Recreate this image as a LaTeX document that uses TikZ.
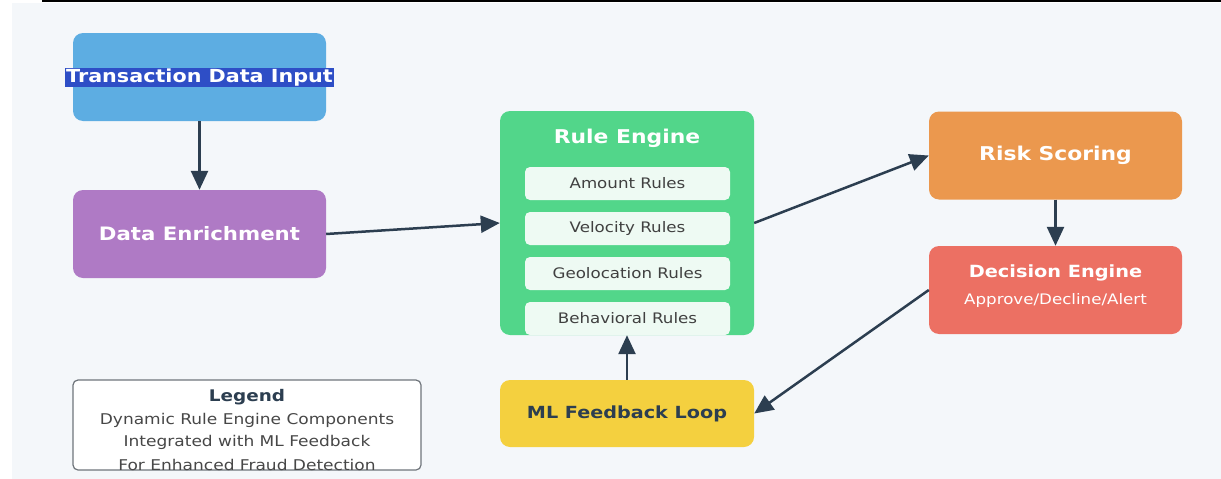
\documentclass[tikz,border=0pt]{standalone}
\usepackage{fontspec}
\setmainfont{DejaVu Sans}
\newfontfamily\boxfont[FakeStretch=1.15]{DejaVu Sans}
\usetikzlibrary{arrows.meta}
\definecolor{pagebg}{HTML}{F4F7FA}
\definecolor{inkdark}{HTML}{2C3E50}
\definecolor{cblue}{HTML}{5DADE2}
\definecolor{cpurple}{HTML}{AF7AC5}
\definecolor{cgreen}{HTML}{52D68A}
\definecolor{corange}{HTML}{EB984E}
\definecolor{cred}{HTML}{EC7063}
\definecolor{cyellow}{HTML}{F4D03F}
\definecolor{subfill}{HTML}{EEFAF3}
\definecolor{selblue}{HTML}{2E4EC6}
\definecolor{legendgray}{HTML}{6F757B}
\newcommand\fsz[1]{\fontsize{#1}{#1}\selectfont}
\tikzset{
  stage/.style={rounded corners=10pt, minimum width=253pt, minimum height=88pt,
    inner sep=0pt, text=white, font=\boxfont\bfseries\fsz{18}, align=center},
  rulebox/.style={rounded corners=5pt, fill=subfill, minimum width=205pt, minimum height=33pt,
    inner sep=0pt, text=black!75, font=\boxfont\fsz{14.5}},
  flow/.style={draw=inkdark, line width=2.5pt, -{Triangle[length=19pt,width=17pt]}},
  legendtext/.style={text=black!72, font=\boxfont\fsz{14.8}}
}
\begin{document}
\begin{tikzpicture}[x=1pt,y=-1pt]
  % canvas
  \useasboundingbox (0,0) rectangle (1221,479);
  \fill[white] (0,0) rectangle (1221,479);
  \fill[pagebg] (12,3) rectangle (1221,479);
  \fill[black] (42,0) rectangle (1221,2);

  % input and enrichment
  \node[stage, fill=cblue] (input) at (199.5,77) {};
  \node[fill=selblue, text=white, inner sep=1pt, font=\boxfont\bfseries\fsz{18}]
    (inputlabel) at (199.5,77.5) {Transaction Data Input};
  \node[stage, fill=cpurple, font=\boxfont\bfseries\fsz{18.5}] (enrich) at (199.5,234) {Data Enrichment};

  % rule engine with its rule sets
  \node[stage, fill=cgreen, minimum width=254pt, minimum height=224pt] (engine) at (627,223) {};
  \node[text=white, font=\boxfont\bfseries\fsz{19}] (enginetitle) at (627,138) {Rule Engine};
  \node[rulebox] (amount) at (627.5,183.5) {Amount Rules};
  \node[rulebox] (velocity) at (627.5,228.5) {Velocity Rules};
  \node[rulebox] (geo) at (627.5,273.5) {Geolocation Rules};
  \node[rulebox] (behav) at (627.5,318.5) {Behavioral Rules};

  % scoring and decision
  \node[stage, fill=corange, font=\boxfont\bfseries\fsz{19}] (risk) at (1055.5,155.5) {Risk Scoring};
  \node[stage, fill=cred] (decision) at (1055.5,290) {};
  \node[text=white, font=\boxfont\bfseries\fsz{16.8}] (dectitle) at (1055.5,273) {Decision Engine};
  \node[text=white, font=\boxfont\fsz{14.5}] (decsub) at (1055.5,300) {Approve/Decline/Alert};

  % feedback loop
  \node[stage, fill=cyellow, minimum width=254pt, minimum height=67pt, text=inkdark,
    font=\boxfont\bfseries\fsz{16.7}] (ml) at (627,413.5) {ML Feedback Loop};

  % legend
  \node[draw=legendgray, line width=1.2pt, fill=white, rounded corners=5pt, minimum width=348pt, minimum height=90pt] (legend) at (247,425) {};
  \node[text=inkdark, font=\boxfont\bfseries\fsz{16}] (legendtitle) at (247,397) {Legend};
  \node[legendtext] (leg1) at (247,420) {Dynamic Rule Engine Components};
  \node[legendtext] (leg2) at (247,442) {Integrated with ML Feedback};
  \node[legendtext] (leg3) at (247,465) {For Enhanced Fraud Detection};

  % connectors
  \draw[flow] (input.south) -- (enrich.north);
  \draw[flow] (enrich.east) -- (engine.west);
  \draw[flow] (engine.east) -- (risk.west);
  \draw[flow] (risk.south) -- (decision.north);
  \draw[flow] (decision.west) -- (ml.east);
  \draw[flow] (ml.north) -- (engine.south);
\end{tikzpicture}
\end{document}
